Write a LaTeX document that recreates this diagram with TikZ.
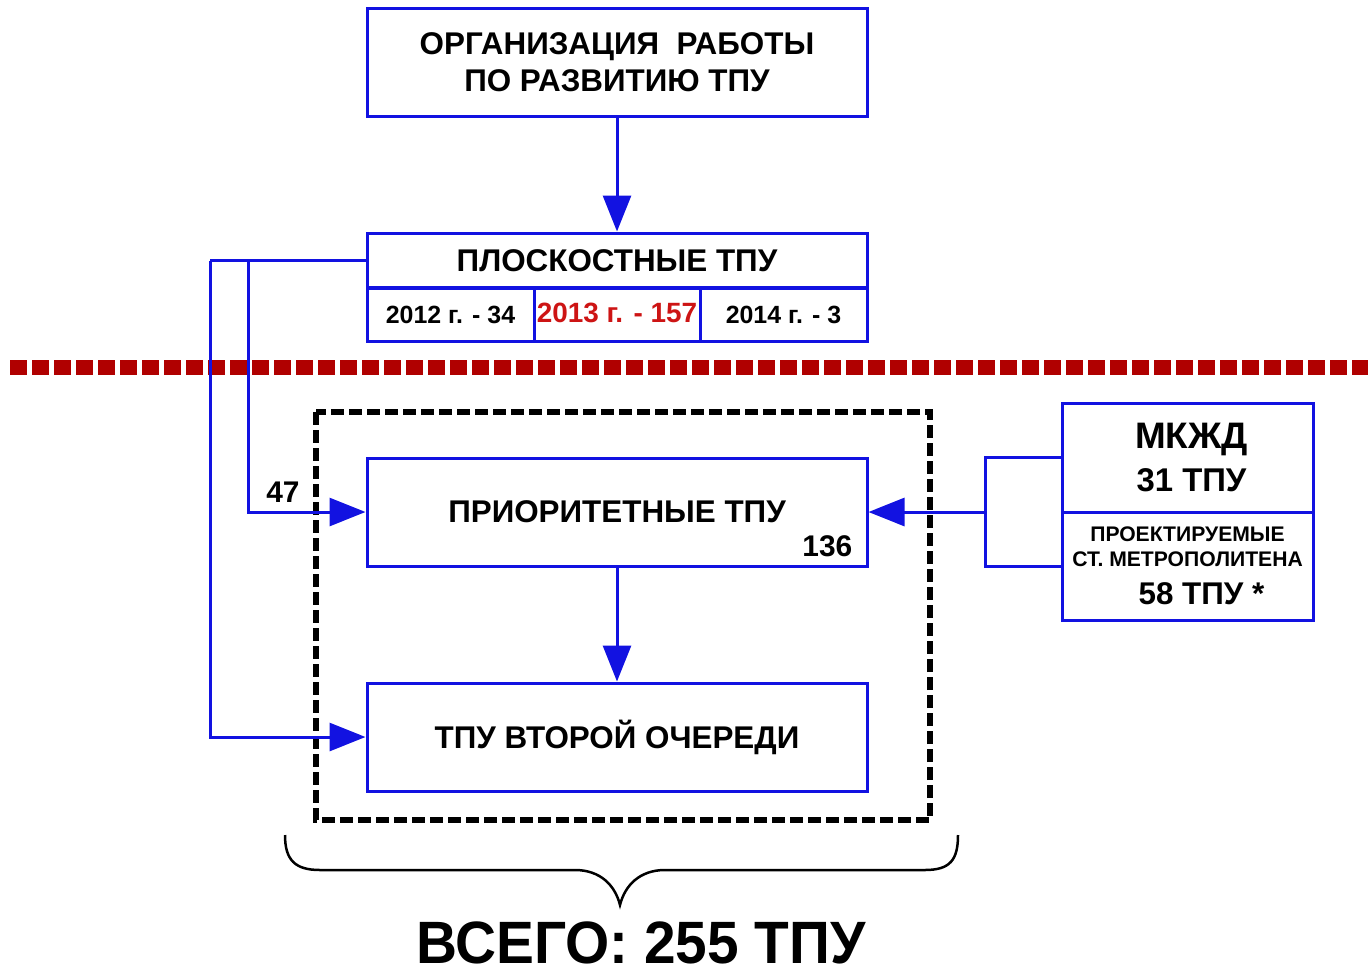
\documentclass[tikz,border=0pt]{standalone}
\usepackage{fontspec}
\setmainfont{Liberation Sans}
\usetikzlibrary{positioning,arrows.meta}
\definecolor{tpublue}{RGB}{18,18,225}
\definecolor{tpured}{RGB}{176,0,0}
\definecolor{yearred}{RGB}{205,20,20}

\tikzset{
  box/.style={draw=tpublue,line width=3bp,minimum width=500bp,minimum height=108bp,inner sep=0pt,align=center,font=\bfseries\fontsize{31.5}{37}\selectfont},
  cell/.style={draw=tpublue,line width=3bp,minimum height=54bp,inner sep=0pt,font=\bfseries\fontsize{25}{28}\selectfont},
  link/.style={tpublue,line width=3bp},
  arr/.style={link,-{Triangle[length=36bp,width=28bp]}},
  lbl/.style={inner sep=0pt,font=\bfseries\fontsize{30}{34}\selectfont}
}

\begin{document}
\begin{tikzpicture}[x=1bp,y=-1bp]
\useasboundingbox (0,0) rectangle (1368,977);

% upper part
\node[box] (org) at (617,62) {ОРГАНИЗАЦИЯ\ \ РАБОТЫ\\ПО РАЗВИТИЮ ТПУ};
\node[box,minimum height=55bp] (plosk) at (617,260.5) {ПЛОСКОСТНЫЕ ТПУ};
\node[cell,minimum width=167bp] (y12) at (450.5,314.5) {2012 г. - 34};
\node[cell,minimum width=166bp,text=yearred,font=\bfseries\fontsize{28}{30}\selectfont] (y13) at (617,314.5) {\raisebox{2.5bp}{2013 г. - 157}};
\node[cell,minimum width=167bp] (y14) at (783.5,314.5) {2014 г. - 3};
\draw[arr] (org) -- (plosk);

% divider
\draw[tpured,line width=15bp,dash pattern=on 17bp off 5bp] (10,367) -- (1368,367);

% lower part
\draw[line width=6bp,dash pattern=on 13bp off 5bp] (316,412) rectangle (930,820);
\node[box] (prio) at (617,512) {ПРИОРИТЕТНЫЕ ТПУ};
\node[box] (second) at (617,737) {ТПУ ВТОРОЙ ОЧЕРЕДИ};
\node[lbl,anchor=south east] (n136) at (prio.south east) [xshift=-16bp,yshift=10bp] {136};
\draw[arr] (prio) -- (second);

\coordinate (leftA) at (210,260.5);
\coordinate (leftB) at (248,260.5);
\draw[link] (plosk.west) -- (leftA);
\draw[arr] (leftA) |- (second.west);
\draw[arr] (leftB) |- (prio.west);
\node[lbl] (n47) at (283,492) {47};

% right block
\node[box,minimum width=251bp,minimum height=109bp,font=\bfseries\fontsize{33}{43}\selectfont] (mkzd) at (1187.5,457.5) {{\fontsize{37}{43}\selectfont\hspace*{8bp}МКЖД}\\\hspace*{8bp}31 ТПУ};
\node[box,minimum width=251bp,font=\bfseries\fontsize{21.2}{25}\selectfont] (metro) at (1187.5,566) {ПРОЕКТИРУЕМЫЕ\\СТ. МЕТРОПОЛИТЕНА\\[13bp]{\fontsize{31.5}{34}\selectfont\hspace*{28bp}58 ТПУ *}};
\coordinate (rightJ) at (985,512);
\draw[link] (mkzd.west) -| (rightJ) |- (metro.west);
\draw[arr] (rightJ) -- (prio.east);

% brace and total
\draw[line width=2.5bp] (285,835) .. controls (285,860) and (295,870) .. (320,870) -- (575,870)
  .. controls (600,870) and (615,885) .. (620,905) .. controls (625,885) and (640,870) .. (665,870)
  -- (925,870) .. controls (950,870) and (958,860) .. (958,835);
\node[inner sep=0pt,anchor=base,font=\bfseries\fontsize{60}{70}\selectfont,xscale=0.95] (total) at (641,963) {ВСЕГО: 255 ТПУ};
\end{tikzpicture}
\end{document}
